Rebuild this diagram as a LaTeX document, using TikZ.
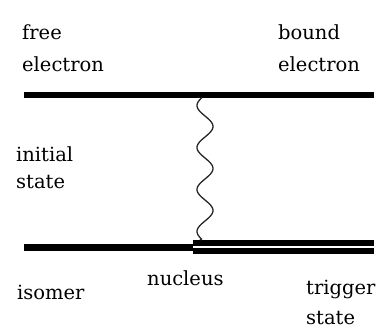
\documentclass[tikz,border=0pt]{standalone}
\usepackage{fontspec}
\setmainfont{DejaVu Serif}
\begin{document}
\begin{tikzpicture}[x=1pt,y=-1pt,
  lbl/.style={inner sep=0pt, anchor=base west, align=left, font=\fontsize{19.5}{32}\selectfont},
  level/.style={line width=5.5pt, line cap=butt},
  wave/.style={line width=1.3pt, black!85}]
\useasboundingbox[fill=white] (0,0) rectangle (378,331);
% level lines
\coordinate (tl) at (24,95);
\coordinate (tr) at (373.5,95);
\coordinate (bl) at (24,247.2);
\coordinate (bm) at (193,247.2);
\coordinate (br) at (373.5,247.2);
\coordinate (wtop) at (201,97.5);
\coordinate (wbot) at (200,240);
\draw[level] (tl) -- (tr);
\draw[level, line width=7pt] (bl) -- (bm);
\draw[line width=6pt, double distance=2.2pt, double=white, line cap=butt] (bm) -- (br);
% wavy photon line
\draw[wave] (wtop) -- plot[domain=98:239, samples=120, smooth] ({205+8*sin((\x-116)*8.5714)}, \x) -- (wbot);
% labels (base anchor = baseline of last line)
\node[lbl] (free) at (22,72) {free\\electron};
\node[lbl] (bound) at (278,72) {bound\\electron};
\node[lbl, font=\fontsize{19.5}{26.5}\selectfont] (init) at (16,188.5) {initial\\state};
\node[lbl] (nuc) at (147,286) {nucleus};
\node[lbl] (iso) at (17,300) {isomer};
\node[lbl, font=\fontsize{19.5}{30}\selectfont] (trig) at (306,325) {trigger\\state};
\end{tikzpicture}
\end{document}
